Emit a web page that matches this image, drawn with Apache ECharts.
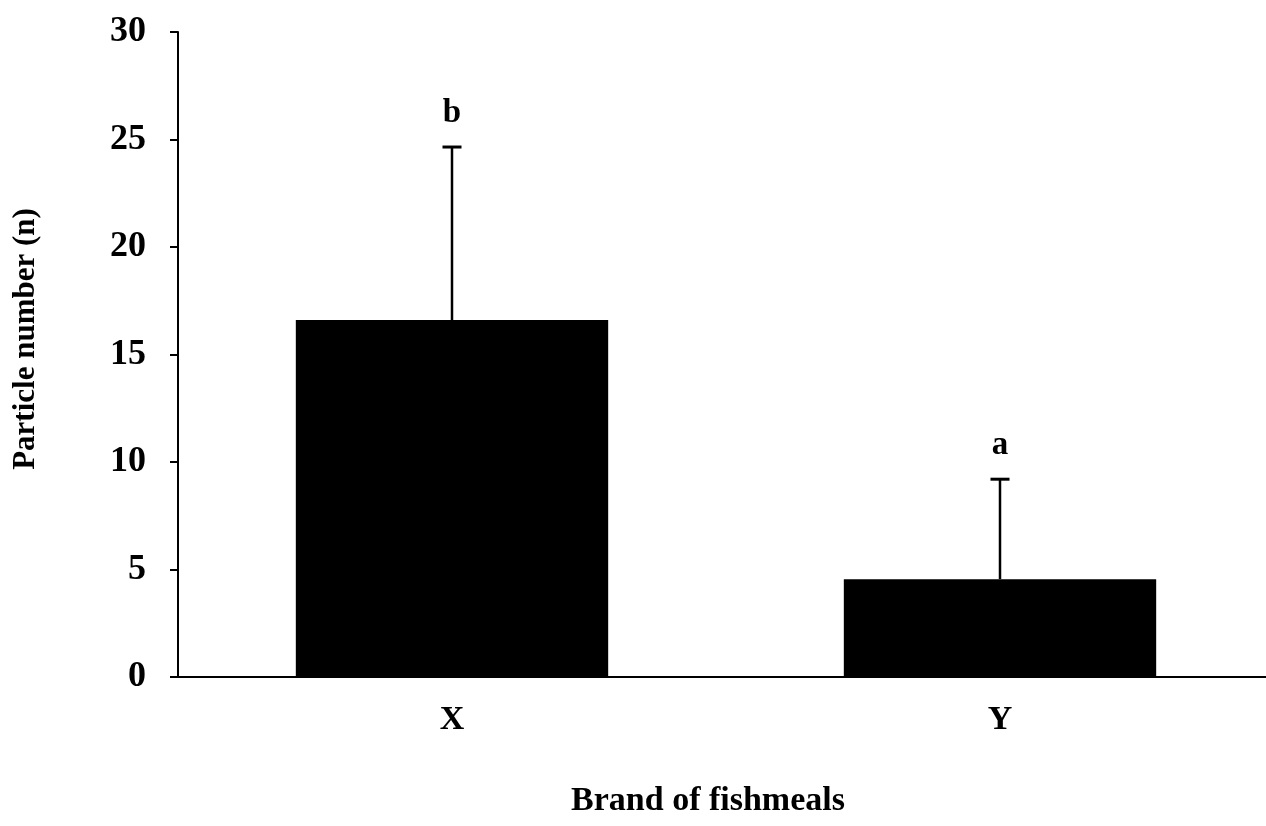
<!DOCTYPE html>
<html>
<head>
<meta charset="utf-8">
<script src="https://cdn.jsdelivr.net/npm/echarts@6/dist/echarts.min.js"></script>
<style>
  html, body { margin: 0; padding: 0; background: #fff; }
  #chart { width: 1266px; height: 826px; }
</style>
</head>
<body>
<div id="chart"></div>
<script>
// brands and mean particle counts, upper error (mean + SD), significance letters
var brands = ['X', 'Y']
var means = [16.6, 4.55]
var errTops = [24.65, 9.2]
var letters = ['b', 'a']
var yTicks = [0, 5, 10, 15, 20, 25, 30]

var font = '"Liberation Serif", "DejaVu Serif", serif'

var chart = echarts.init(document.getElementById('chart'))

var errData = brands.map(function (b, i) {
  return [i, means[i], errTops[i]]
})

chart.setOption({
  animation: false,
  // the x axis runs past the right edge of the picture, so use width not right
  grid: { left: 178, width: 1096, top: 32, bottom: 149, outerBoundsMode: 'none' },
  xAxis: {
    type: 'category',
    data: brands,
    axisLine: { lineStyle: { color: '#000', width: 2 } },
    axisTick: { show: false },
    axisLabel: {
      margin: 26,
      color: '#000',
      fontFamily: font,
      fontWeight: 'bold',
      fontSize: 34
    }
  },
  yAxis: {
    type: 'value',
    min: yTicks[0],
    max: yTicks[yTicks.length - 1],
    interval: 5,
    axisLine: { show: true, lineStyle: { color: '#000', width: 2 } },
    axisTick: { show: true, length: 8, lineStyle: { color: '#000', width: 2 } },
    splitLine: { show: false },
    axisLabel: {
      margin: 32,
      color: '#000',
      fontFamily: font,
      fontWeight: 'bold',
      fontSize: 36
    }
  },
  graphic: [{
    type: 'text',
    rotation: Math.PI / 2,
    x: 26,
    y: 339,
    style: {
      text: 'Particle number (n)',
      fill: '#000',
      font: 'bold 31px ' + font,
      textAlign: 'center',
      textVerticalAlign: 'middle'
    }
  }, {
    type: 'text',
    x: 708,
    y: 801,
    style: {
      text: 'Brand of fishmeals',
      fill: '#000',
      font: 'bold 34px ' + font,
      textAlign: 'center',
      textVerticalAlign: 'middle'
    }
  }],
  series: [{
    type: 'bar',
    data: means,
    barWidth: '57%',
    itemStyle: { color: '#000' }
  }, {
    type: 'custom',
    data: errData,
    z: 5,
    renderItem: function (params, api) {
      var base = api.coord([api.value(0), api.value(1)])
      var top = api.coord([api.value(0), api.value(2)])
      var half = 9.5
      return {
        type: 'group',
        children: [{
          type: 'line',
          shape: { x1: base[0], y1: base[1], x2: top[0], y2: top[1] },
          style: { stroke: '#000', lineWidth: 2.5 }
        }, {
          type: 'line',
          shape: { x1: top[0] - half, y1: top[1], x2: top[0] + half, y2: top[1] },
          style: { stroke: '#000', lineWidth: 3 }
        }, {
          type: 'text',
          x: top[0],
          y: top[1] - 34,
          style: {
            text: letters[params.dataIndex],
            fill: '#000',
            font: 'bold 33px ' + font,
            textAlign: 'center',
            textVerticalAlign: 'middle'
          }
        }]
      }
    }
  }]
})
</script>
</body>
</html>
